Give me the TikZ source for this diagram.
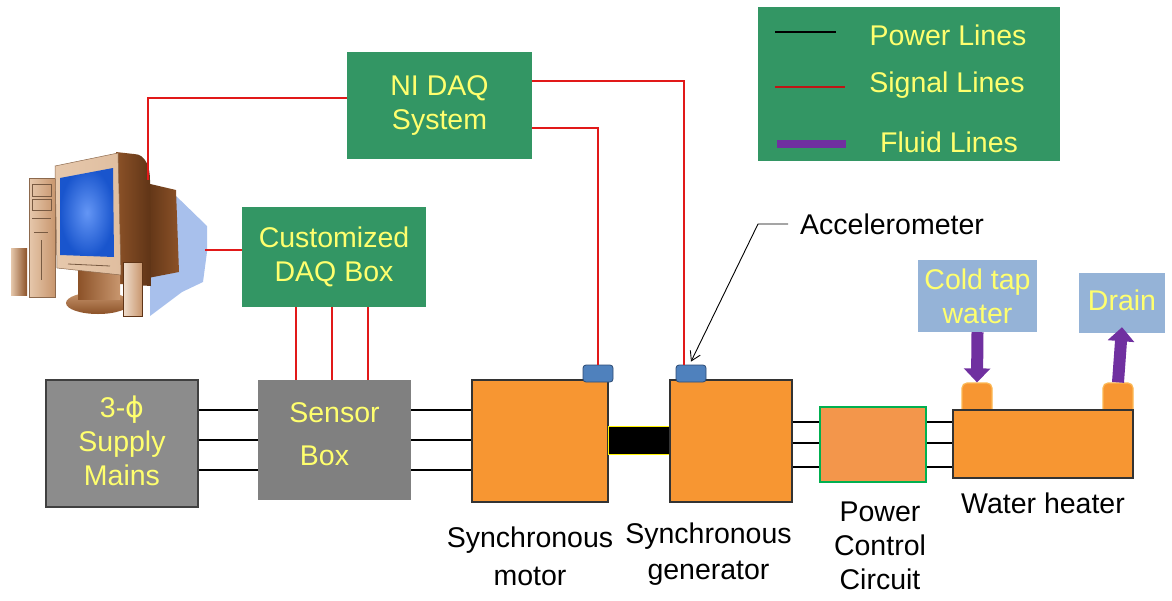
\documentclass[tikz,border=0pt]{standalone}
\usepackage{fontspec}
\setmainfont{Liberation Sans}
\newfontfamily\symfont{DejaVu Sans}
\usetikzlibrary{arrows.meta}

\definecolor{boxgreen}{RGB}{51,150,100}
\definecolor{txtyellow}{RGB}{255,255,110}
\definecolor{mainsgray}{RGB}{140,140,140}
\definecolor{sensgray}{RGB}{128,128,128}
\definecolor{machorange}{RGB}{247,150,50}
\definecolor{pccorange}{RGB}{243,150,75}
\definecolor{pccgreen}{RGB}{0,176,80}
\definecolor{accblue}{RGB}{79,129,189}
\definecolor{accdark}{RGB}{45,75,115}
\definecolor{tapblue}{RGB}{149,179,215}
\definecolor{fluidpurple}{RGB}{112,48,160}
\definecolor{sigred}{RGB}{225,25,25}
\definecolor{nubedge}{RGB}{252,185,85}
\definecolor{pcbeige}{RGB}{230,200,172}
\definecolor{pctan}{RGB}{200,150,110}
\definecolor{pcbrown}{RGB}{140,82,40}
\definecolor{pcdark}{RGB}{95,52,22}
\definecolor{pcshadow}{RGB}{168,192,236}
\definecolor{scrlight}{RGB}{100,150,245}
\definecolor{scrdark}{RGB}{25,85,205}

\begin{document}
\begin{tikzpicture}[x=1pt,y=-1pt,
  lbl/.style={font=\fontsize{28.5}{34}\selectfont, align=center, inner sep=0pt},
  greenbox/.style={fill=boxgreen, text=txtyellow, lbl, inner sep=0pt},
  graybox/.style={text=txtyellow, lbl, inner sep=0pt},
  machine/.style={fill=machorange, draw=black!80, line width=1.2pt, inner sep=0pt},
  accel/.style={fill=accblue, draw=accdark, line width=0.8pt, rounded corners=3pt, inner sep=0pt,
    minimum width=30pt, minimum height=17pt},
  tapbox/.style={fill=tapblue, text=txtyellow, lbl, inner sep=0pt},
  nub/.style={fill=machorange, draw=nubedge, line width=1.2pt, rounded corners=5pt,
    inner sep=0pt, minimum width=30pt, minimum height=35pt},
  power/.style={draw=black, line width=2.4pt},
  sig/.style={draw=sigred, line width=2pt},
  fluid/.style={draw=fluidpurple, line width=12pt, -{Triangle[width=26pt,length=14pt]}},
  caption/.style={text=black, lbl}]

\path[use as bounding box] (0,0) rectangle (1172,600);

% ---------------- computer ----------------
\fill[pcshadow] (150,185) -- (172,192) -- (207,226) -- (207,252) -- (203,282)
  -- (182,292) -- (150,316) -- cycle;
\shade[left color=pcdark, right color=pcbrown] (146,183) -- (176,190) -- (179,272) -- (148,278) -- cycle;
\shade[left color=pcbrown, right color=pcdark] (116,152) -- (134,154) to[out=0,in=90] (150,180)
  -- (151,286) -- (120,284) -- cycle;
% tower
\shade[left color=pcbeige, right color=pctan] (29,178) rectangle (55,297);
\draw[pctan!70!black, line width=0.5pt] (29,178) rectangle (55,297);
\draw[pctan!60!black, line width=0.6pt] (32,184) rectangle (51,196) (32,199) rectangle (51,210)
  (32,218) -- (51,218) (34,232) -- (48,232) (41,240) -- (41,280);
% left speaker
\shade[left color=pcbeige, right color=pcbrown] (11,248) rectangle (27,295);
% stand
\shade[top color=pctan, bottom color=pcbrown] (98,303) ellipse [x radius=32, y radius=11];
\shade[left color=pcbrown, right color=pctan] (78,270) rectangle (120,299);
% bezel and screen
\shade[left color=pcbeige, right color=pcbeige!80!pctan] (55,166) -- (118,153) -- (121,275)
  -- (57,268) -- cycle;
\draw[pctan!70!black, line width=0.5pt] (55,166) -- (118,153) -- (121,275) -- (57,268) -- cycle;
\shade[inner color=scrlight, outer color=scrdark] (60,178) -- (113,168) -- (114,257)
  -- (60,255) -- cycle;
\draw[pctan!60!black, line width=0.8pt] (68,264) -- (110,266);
% right speaker
\shade[left color=pcbeige!60!white, right color=pctan] (123,262) rectangle (142,316);
\draw[pcdark, line width=0.5pt] (123,262) rectangle (142,316);
\coordinate (pctop) at (148,180);
\coordinate (pcside) at (205,250);

% ---------------- boxes ----------------
\node[greenbox, minimum width=185pt, minimum height=107pt] (nidaq) at (439.5,105.5)
  {\raisebox{-6pt}{\parbox{180pt}{\centering NI DAQ\\System}}};
\node[greenbox, minimum width=184pt, minimum height=100pt] (cdaq) at (334,257)
  {\raisebox{-3pt}{\parbox{180pt}{\centering Customized\\DAQ Box}}};

\node[fill=mainsgray, draw=black!75, line width=1.2pt, minimum width=152pt,
  minimum height=127pt, inner sep=0pt] (mains) at (122,443.5) {};
\node[graybox] at ([yshift=3pt]mains.center) {3-{\symfont ϕ}\\Supply\\Mains};

\node[fill=sensgray, minimum width=153pt, minimum height=120pt, inner sep=0pt]
  (sensor) at (334.5,440) {};
\node[graybox, font=\fontsize{28.5}{43}\selectfont] at ([yshift=6pt]sensor.center) {Sensor\\Box\hspace*{20pt}};

\node[machine, minimum width=136pt, minimum height=122pt] (motor) at (540,441) {};
\node[fill=black, draw=yellow, line width=0.8pt, minimum width=62pt, minimum height=28pt,
  inner sep=0pt] (coupling) at (639,440) {};
\node[machine, minimum width=122pt, minimum height=122pt] (gen) at (731,441) {};
\node[accel] (msens) at (598,373.5) {};
\node[accel] (gsens) at (691,373.5) {};

\node[fill=pccorange, draw=pccgreen, line width=2.2pt, minimum width=106pt,
  minimum height=75pt, inner sep=0pt] (pcc) at (873,444.5) {};

\node[nub] (lnub) at (977,400.5) {};
\node[nub] (rnub) at (1118,400.5) {};
\node[machine, minimum width=180pt, minimum height=68pt] (heater) at (1043,444) {};

\node[tapbox, minimum width=119pt, minimum height=72pt] (cold) at (977.5,296) {Cold tap\\water};
\node[tapbox, minimum width=86pt, minimum height=60pt] (drain) at (1122,303) {\raisebox{5pt}{Drain}};

% ---------------- captions ----------------
\node[caption, font=\fontsize{28.5}{38}\selectfont] (motorlbl) at (530,556) {Synchronous\\motor};
\node[caption, font=\fontsize{28.5}{36}\selectfont] (genlbl) at (708.5,554) {Synchronous\\generator};
\node[caption, font=\fontsize{28.5}{34}\selectfont] (pcclbl) at (880,546) {Power\\Control\\Circuit};
\node[caption] (heaterlbl) at (1043,503) {Water heater};
\node[caption, anchor=west] (acc) at (800,224) {Accelerometer};

% ---------------- power lines ----------------
\coordinate (pa) at (0,410);
\coordinate (pb) at (0,440);
\coordinate (pc) at (0,470);
\foreach \p in {pa,pb,pc} {
  \draw[power] (mains.east |- \p) -- (sensor.west |- \p);
  \draw[power] (sensor.east |- \p) -- (motor.west |- \p);
}
\coordinate (qa) at (0,422);
\coordinate (qb) at (0,443);
\coordinate (qc) at (0,467);
\foreach \q in {qa,qb,qc} {
  \draw[power] (gen.east |- \q) -- (pcc.west |- \q);
  \draw[power] (pcc.east |- \q) -- (heater.west |- \q);
}

% ---------------- signal lines ----------------
\coordinate (ya) at (0,98);
\coordinate (yb) at (0,81);
\coordinate (yc) at (0,128);
\draw[sig] (pctop) |- (nidaq.west |- ya);
\draw[sig] (pcside) -- (cdaq.west |- pcside);
\draw[sig] (nidaq.east |- yc) -| (msens.north);
\draw[sig] (nidaq.east |- yb) -| ([xshift=-7pt]gsens.north);
\coordinate (sa) at (296,0);
\coordinate (sb) at (332,0);
\coordinate (sc) at (368,0);
\foreach \s in {sa,sb,sc}
  \draw[sig] (cdaq.south -| \s) -- (sensor.north -| \s);

% accelerometer pointer
\coordinate (acckink) at (758,224);
\draw[black, line width=0.9pt, -{Straight Barb[length=9pt,width=11pt]}]
  ([xshift=-12pt]acc.west) -- (acckink) -- ([yshift=3pt]gsens.north);

% ---------------- fluid lines ----------------
\draw[fluid] (cold.south) -- (lnub.north);
\draw[fluid] (rnub.north) -- ([yshift=6pt]drain.south);

% ---------------- legend ----------------
\node[fill=boxgreen, minimum width=302pt, minimum height=154pt, inner sep=0pt] (legend) at (909,84) {};
\draw[black, line width=2pt] (775,32) -- (836,32);
\draw[sigred!85!black, line width=2pt] (775,87) -- (845,87);
\draw[fluidpurple, line width=8pt] (777,144) -- (846,144);
\node[lbl, text=txtyellow] (lpow) at (948,35) {Power Lines};
\node[lbl, text=txtyellow] (lsig) at (947,85) {Signal Lines};
\node[lbl, text=txtyellow] (lflu) at (949,142) {Fluid Lines};

\end{tikzpicture}
\end{document}
